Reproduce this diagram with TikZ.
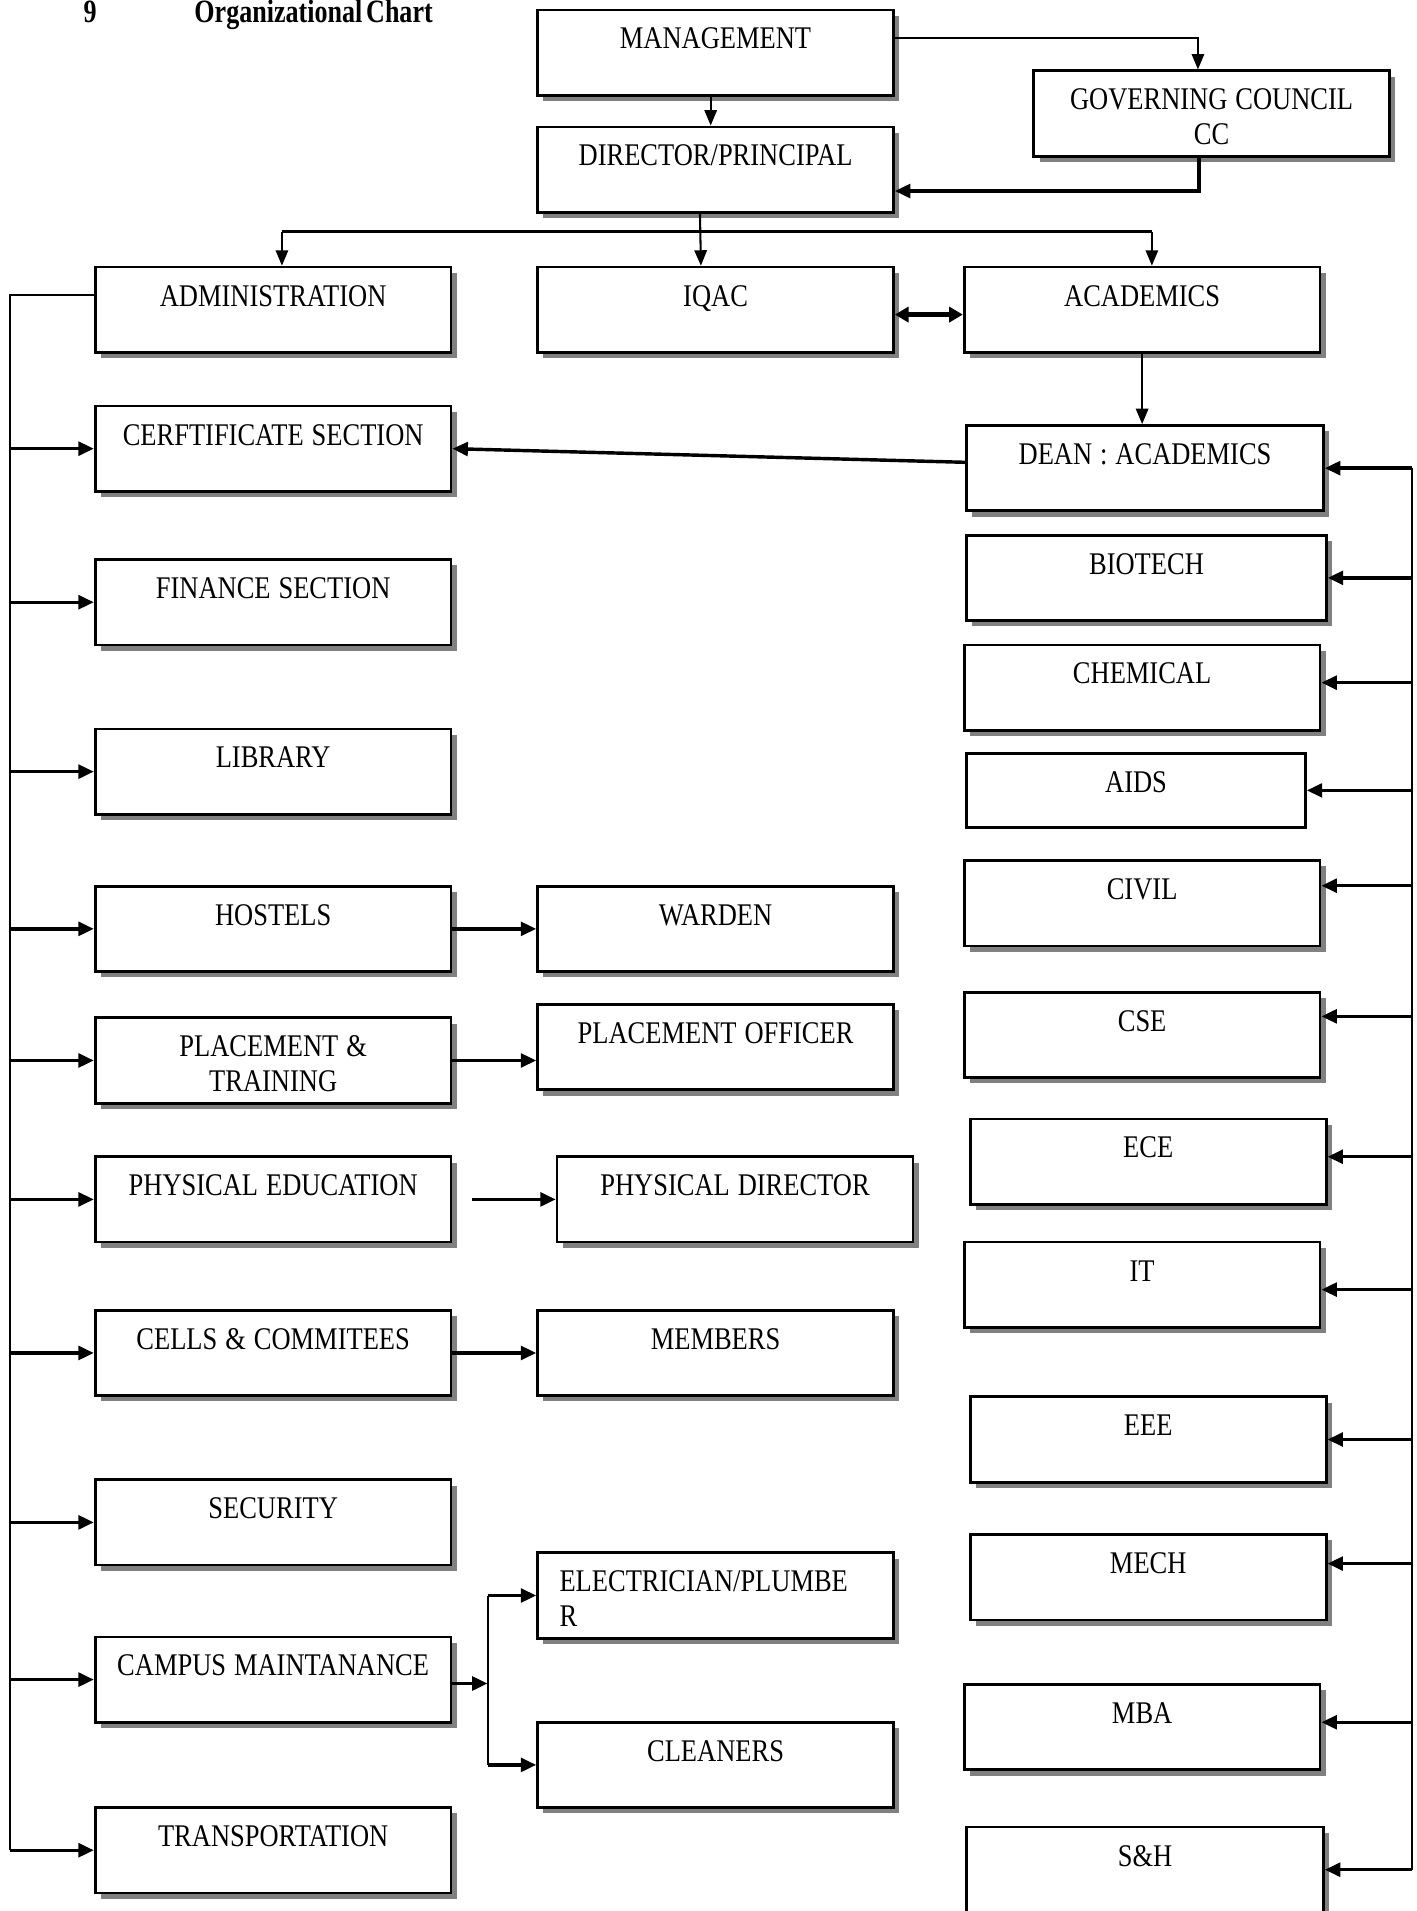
\documentclass[tikz,border=0pt]{standalone}
\usepackage{fontspec}
\newfontfamily\unitfont{Liberation Serif}[FakeStretch=0.84,WordSpace=1.2]
\newfontfamily\headfont{Liberation Serif}[FakeStretch=0.8,WordSpace=0.6]
\usetikzlibrary{arrows.meta,shadows}

\tikzset{
  unitbox/.style={rectangle,draw,line width=0.8pt,fill=white,text width=36.5mm,align=flush center,
    inner xsep=0pt,inner ysep=0pt,text height=4mm,text depth=4.75mm,anchor=north west,
    font=\unitfont\fontsize{9.2}{10}\selectfont},
  boxshadow/.style={drop shadow={shadow xshift=0.6mm,shadow yshift=-0.6mm,fill=black!50,opacity=1}},
  link/.style={line width=0.6pt},
  linkarrow/.style={line width=0.6pt,-{Triangle[length=4.5pt,width=3.6pt]}},
  boldarrow/.style={line width=1pt,-{Triangle[length=4.5pt,width=4pt]}},
  botharrow/.style={line width=1.3pt,{Triangle[length=4pt,width=4.4pt]}-{Triangle[length=4pt,width=4.4pt]}}
}

\begin{document}
\begin{tikzpicture}[x=0.125mm,y=-0.125mm]
\useasboundingbox (0,0) rectangle (1162,1568);
% heading
\node[anchor=base,inner sep=0pt,font=\headfont\bfseries\fontsize{9.5}{11}\selectfont] at (74,18.6) (secno) {9};
\node[anchor=base west,inner sep=0pt,font=\headfont\bfseries\fontsize{9.5}{11}\selectfont] at (159,18.6) (title) {Organizational Chart};

% top of the chart
\node[unitbox,boxshadow] at (440,7) (mgmt) {MANAGEMENT};
\node[unitbox,boxshadow] at (847,57) (gov) {GOVERNING COUNCIL\\CC};
\node[unitbox,boxshadow] at (440,103) (dir) {DIRECTOR/PRINCIPAL};
\node[unitbox,boxshadow] at (77,218) (admin) {ADMINISTRATION};
\node[unitbox,boxshadow] at (440,218) (iqac) {IQAC};
\node[unitbox,boxshadow] at (790,218) (acad) {ACADEMICS};

% administration side
\node[unitbox,boxshadow] at (77,332) (cert) {CERFTIFICATE SECTION};
\node[unitbox,boxshadow] at (77,458) (fin) {FINANCE SECTION};
\node[unitbox,boxshadow] at (77,597) (lib) {LIBRARY};
\node[unitbox,boxshadow] at (77,726) (host) {HOSTELS};
\node[unitbox,boxshadow] at (77,834) (place) {PLACEMENT \&\\TRAINING};
\node[unitbox,boxshadow] at (77,948) (phyedu) {PHYSICAL EDUCATION};
\node[unitbox,boxshadow] at (77,1074) (cells) {CELLS \& COMMITEES};
\node[unitbox,boxshadow] at (77,1213) (security) {SECURITY};
\node[unitbox,boxshadow] at (77,1342) (campus) {CAMPUS MAINTANANCE};
\node[unitbox,boxshadow] at (77,1482) (transport) {TRANSPORTATION};

\node[unitbox,boxshadow] at (440,726) (ward) {WARDEN};
\node[unitbox,boxshadow] at (440,823) (officer) {PLACEMENT OFFICER};
\node[unitbox,boxshadow] at (456,948) (phydir) {PHYSICAL DIRECTOR};
\node[unitbox,boxshadow] at (440,1074) (members) {MEMBERS};
\node[unitbox,boxshadow,align=flush left,text width=32mm,inner xsep=2.25mm] at (440,1273) (elec) {ELECTRICIAN/PLUMBE\\R};
\node[unitbox,boxshadow] at (440,1412) (cleaners) {CLEANERS};

% academic side
\node[unitbox,boxshadow,text width=36.6mm] at (792,348) (dean) {DEAN : ACADEMICS};
\node[unitbox,boxshadow,text width=36.9mm] at (792,438) (bio) {BIOTECH};
\node[unitbox,boxshadow] at (790,528) (chem) {CHEMICAL};
\node[unitbox,text width=34.75mm,text depth=3.6mm] at (792,617) (aids) {AIDS};
\node[unitbox,boxshadow] at (790,705) (civil) {CIVIL};
\node[unitbox,boxshadow] at (790,813) (cse) {CSE};
\node[unitbox,boxshadow] at (795,917) (ece) {ECE};
\node[unitbox,boxshadow] at (790,1018) (it) {IT};
\node[unitbox,boxshadow] at (795,1145) (eee) {EEE};
\node[unitbox,boxshadow] at (795,1258) (mech) {MECH};
\node[unitbox,boxshadow] at (790,1381) (mba) {MBA};
\node[unitbox,boxshadow,text width=36.6mm] at (792,1498) (sh) {S\&H};

% connectors at the top
\draw[linkarrow] ([yshift=1.45mm]mgmt.east) -| ([xshift=-1.4mm]gov.north);
\draw[linkarrow] ([xshift=-0.5mm]mgmt.south) -- ([xshift=-0.5mm]dir.north);
\draw[boldarrow] ([xshift=-1.3mm]gov.south) |- ([yshift=-2.2mm]dir.east);
\coordinate (tbus) at (573,190);
\coordinate (admin-in) at ([xshift=0.9mm]admin.north);
\coordinate (acad-in) at ([xshift=1mm]acad.north);
\draw[line width=0.8pt] (admin-in |- tbus) -- (acad-in |- tbus);
\draw[linkarrow] ([xshift=-1.6mm]dir.south) -- ([xshift=-1.5mm]iqac.north);
\draw[linkarrow] (admin-in |- tbus) -- (admin-in);
\draw[linkarrow] (acad-in |- tbus) -- (acad-in);
\draw[botharrow] ([yshift=-0.5mm]iqac.east) -- ([yshift=-0.5mm]acad.west);
\draw[linkarrow] (acad.south) -- (acad.south |- dean.north);
\draw[boldarrow] ([yshift=0.6mm]dean.west) -- (cert.east);

% left bus
\coordinate (lbus) at ([xshift=-8.6mm,yshift=1.5mm]admin.west);
\draw[link] ([yshift=1.5mm]admin.west) -- (lbus) -- (lbus |- transport.west);
\foreach \n in {cert,fin,lib,host,place,phyedu,cells,security,campus,transport}
  \draw[boldarrow] (lbus |- \n.west) -- (\n.west);

\draw[boldarrow] (host.east) -- (ward.west);
\draw[boldarrow] (place.east) -- (place.east -| officer.west);
\draw[boldarrow] ([xshift=2mm]phyedu.east) -- (phydir.west);
\draw[boldarrow] (cells.east) -- (members.west);
\coordinate (cbus) at ([xshift=3.6mm,yshift=-0.4mm]campus.east);
\draw[boldarrow] ([yshift=-0.4mm]campus.east) -- (cbus);
\draw[link] (cbus |- elec.west) -- (cbus |- cleaners.west);
\draw[boldarrow] (cbus |- elec.west) -- (elec.west);
\draw[boldarrow] (cbus |- cleaners.west) -- (cleaners.west);

% right bus
\coordinate (rbus) at ([xshift=8.9mm]dean.east);
\foreach \n/\dy in {dean/0mm,bio/0mm,chem/0.5mm,aids/0mm,civil/1.8mm,cse/1.9mm,ece/0.5mm,it/-0.5mm,eee/0mm,mech/1.4mm,mba/0.5mm,sh/0mm}{
  \coordinate (\n-in) at ([yshift=\dy]\n.east);
  \draw[boldarrow] (\n-in -| rbus) -- (\n-in);
}
\draw[link] (dean-in -| rbus) -- (sh-in -| rbus);
\end{tikzpicture}
\end{document}
